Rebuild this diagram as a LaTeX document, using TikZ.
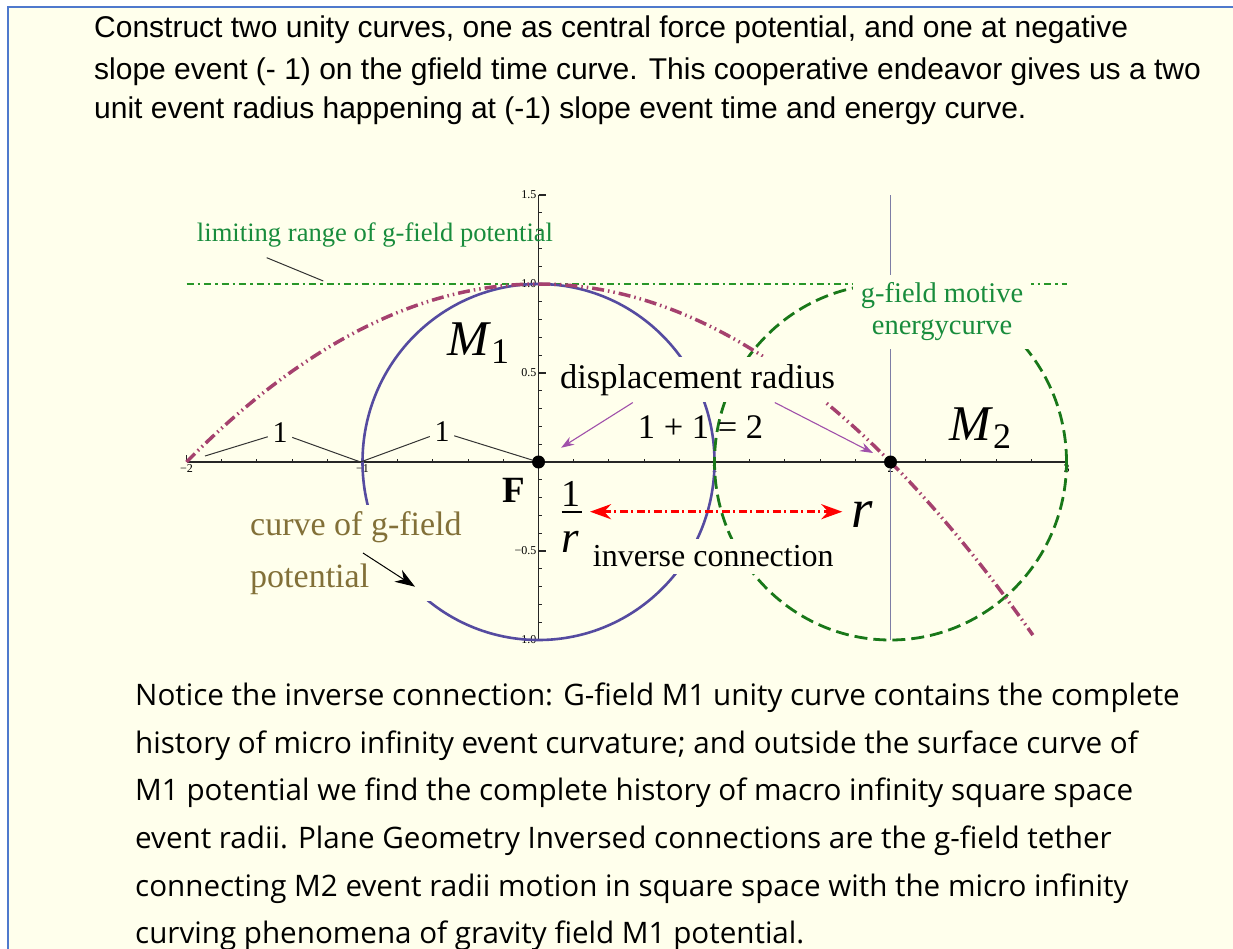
\documentclass[tikz,border=0pt]{standalone}
\usepackage{fontspec}
\setmainfont{Liberation Serif}
\newfontfamily\arialfont{Liberation Sans}
\newfontfamily\handfont{Open Sans}
\usetikzlibrary{arrows.meta,positioning}

\definecolor{paper}{RGB}{255,255,236}
\definecolor{frameblue}{RGB}{79,121,205}
\definecolor{unityblue}{RGB}{85,75,160}
\definecolor{motivegreen}{RGB}{25,120,25}
\definecolor{limitgreen}{RGB}{40,150,40}
\definecolor{labelgreen}{RGB}{24,140,60}
\definecolor{potpink}{RGB}{165,65,110}
\definecolor{arrowpurple}{RGB}{160,80,170}
\definecolor{curveolive}{RGB}{130,112,56}
\definecolor{markgrey}{RGB}{125,125,165}

\newcommand{\fsz}[1]{\fontsize{#1}{#1}\selectfont}

\begin{document}
\begin{tikzpicture}[x=1pt,y=-1pt,
    toptext/.style={anchor=base west,inner sep=0pt,font=\arialfont\fsz{30}},
    handtext/.style={anchor=base west,inner sep=0pt,font=\handfont\fsz{29.6}},
    axisline/.style={line width=1.1pt,black!85},
    ticklab/.style={font=\fsz{12},inner sep=2pt},
    boxlab/.style={fill=paper,inner sep=7pt},
    onelab/.style={font=\fsz{30},inner sep=4.5pt},
    dot/.style={circle,fill=black,minimum size=13pt,inner sep=0pt},
    thinline/.style={line width=1pt,black!80},
    disparrow/.style={line width=1.1pt,arrowpurple,-{Stealth[length=13pt,width=9pt]}},
    blackarrow/.style={line width=1pt,-{Stealth[length=20pt,width=14pt]}},
    invarrow/.style={line width=3pt,red,dash pattern=on 8pt off 3.5pt on 2pt off 3.5pt,
      {Stealth[length=21pt,width=15pt]}-{Stealth[length=21pt,width=15pt]}},
    unitycurve/.style={line width=2.6pt,unityblue},
    motivecurve/.style={line width=2.8pt,motivegreen,dash pattern=on 13pt off 6pt},
    potcurve/.style={line width=3.5pt,potpink,dash pattern=on 12pt off 4pt on 1.5pt off 4pt on 1.5pt off 4pt},
    limitline/.style={line width=2.8pt,limitgreen,dash pattern=on 7pt off 4pt on 2.5pt off 4pt},
    markline/.style={line width=1.2pt,markgrey}]
\useasboundingbox (0,0) rectangle (1233,949);
\fill[white] (0,0) rectangle (1233,949);
\filldraw[fill=paper,draw=frameblue,line width=2pt] (8,7) rectangle (1250,970);

% intro text
\node[toptext] (intro1) at (94,37.3) {Construct two unity curves, one as central force potential, and one at negative};
\node[toptext] (intro2) at (94,79.3) {slope event (- 1) on the gfield time curve. This cooperative endeavor gives us a two};
\node[toptext] (intro3) at (94,119) {unit event radius happening at (-1) slope event time and energy curve.};

% plot in unit coordinates
\begin{scope}[shift={(538.5,462)},x=176pt,y=178pt]
  \draw[axisline] (-2,0) -- (3,0);
  \draw[axisline] (0,-1) -- (0,1.5);
  \foreach \k in {-10,...,15} \draw[axisline] (\k/5,0) -- ++(0,3.5pt);
  \foreach \k in {-10,...,15} \draw[axisline] (0,\k/10) -- ++(3.5pt,0);
  \foreach \t/\lab/\nm in {-2/−2/a,-1/−1/b,1/1/c,2/2/d,3/3/e}{
    \draw[axisline] (\t,0) -- ++(0,7pt);
    \node[ticklab,below] (xt\nm) at (\t,0) {\lab};
  }
  \foreach \t/\lab/\nm in {-1/−1.0/a,-0.5/−0.5/b,0.5/0.5/c,1/1.0/d,1.5/1.5/e}{
    \draw[axisline] (0,\t) -- ++(7pt,0);
    \node[ticklab,left] (yt\nm) at (0,\t) {\lab};
  }
  \draw[markline] (2,-1) -- (2,1.5);  % line through M2 centre
  \draw[limitline] (-2,1) -- (3,1);  % limiting range
  \draw[unitycurve] (0,0) circle[radius=1];  % M1 unity curve
  \draw[motivecurve] (2,0) circle[radius=1];  % M2 unity curve
  \draw[potcurve] plot[domain=-2:2.81,samples=90,smooth] (\x,{1-\x*\x/4});
\end{scope}

% labels over the curves
\node[boxlab,anchor=base,font=\fsz{34.5}] (disp) at (697.5,388) {displacement radius};
\node[boxlab,align=center,inner sep=8pt,text=labelgreen,font=\fontsize{28.5}{32}\selectfont] (motive) at (942,312) {g-field motive\\energycurve};
\node[boxlab,anchor=west,align=left,text=curveolive,font=\fontsize{34}{51.7}\selectfont] (curvelab) at (243,553) {curve of g-field\\potential};
\node[boxlab,anchor=base,font=\fsz{32}] (inv) at (713.3,566.7) {inverse connection};

\node[anchor=base,font=\fsz{34.5}] (sum) at (700.5,438) {1 + 1 = 2};
\node[anchor=base,text=labelgreen,font=\fsz{26.6}] (lim) at (375,241.7) {limiting range of g-field potential};
\node[anchor=base west,inner sep=0pt,font=\fsz{50}] (M1) at (447,355) {\textit{M}\raisebox{-8pt}{\fsz{36}1}};
\node[anchor=base west,inner sep=0pt,font=\fsz{50}] (M2) at (949,440) {\textit{M}\raisebox{-8pt}{\fsz{36}2}};
\node[anchor=base,font=\bfseries\fsz{37}] (F) at (514,502) {F};
\node[anchor=base,font=\fsz{38}] (fone) at (571,506.5) {1};
\draw[line width=2.2pt] (561.5,511.7) -- (581.5,511.7);
\node[anchor=base,font=\itshape\fsz{45}] (fr) at (570.5,552) {r};
\node[anchor=base,font=\itshape\fsz{55}] (rr) at (862,527) {r};
\node[onelab] (one1) at (280,433) {1};
\node[onelab] (one2) at (442,432) {1};

% points and pointers
\node[dot] (O) at (538.5,462) {};
\node[dot] (P2) at (890.5,462) {};
\coordinate (Pm1) at (360.5,462);
\coordinate (tailA) at (205,456);
\coordinate (limA) at (266.7,257.7);
\coordinate (limB) at (323.3,281);
\coordinate (curvetip) at (415,586.7);
\coordinate (invL) at (590,511.7);
\coordinate (invR) at (842.3,511.7);

\draw[thinline] (tailA) -- (one1) -- (Pm1) -- (one2) -- (O);  % two unit radii
\draw[thinline] (limA) -- (limB);
\draw[disparrow,shorten >=20pt] ([xshift=80pt]disp.south west) -- (O);
\draw[disparrow,shorten >=13pt] ([xshift=222pt]disp.south west) -- (P2);
\draw[blackarrow] ([xshift=120pt]curvelab.west) -- (curvetip);
\draw[invarrow] (invL) -- (invR);  % 1/r to r

% closing text
\node[handtext] (note1) at (135,705.3) {Notice the inverse connection: G-field M1 unity curve contains the complete};
\node[handtext] (note2) at (135,753) {history of micro infinity event curvature; and outside the surface curve of};
\node[handtext] (note3) at (135,800.7) {M1 potential we find the complete history of macro infinity square space};
\node[handtext] (note4) at (135,848.3) {event radii. Plane Geometry Inversed connections are the g-field tether};
\node[handtext] (note5) at (135,896) {connecting M2 event radii motion in square space with the micro infinity};
\node[handtext] (note6) at (135,943.7) {curving phenomena of gravity field M1 potential.};
\end{tikzpicture}
\end{document}
